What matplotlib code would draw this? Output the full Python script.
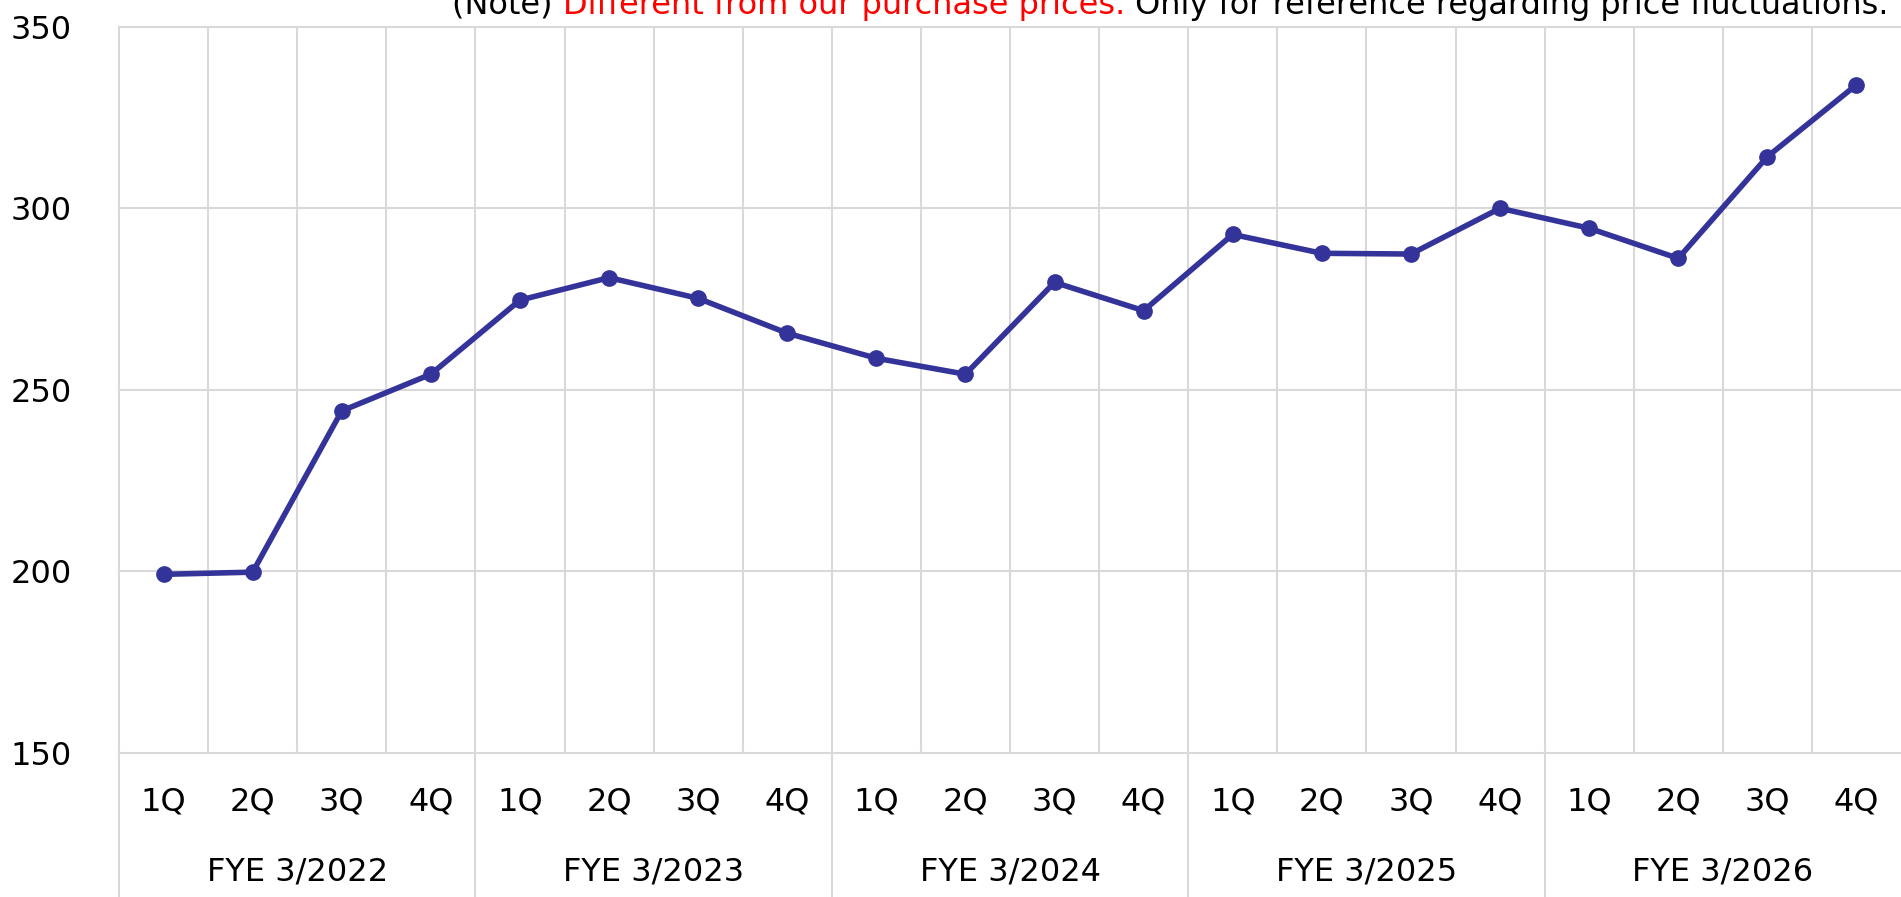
import numpy as np
import matplotlib
matplotlib.use("Agg")
import matplotlib.pyplot as plt
import matplotlib.transforms as mtransforms

# data
years = ["FYE 3/2022", "FYE 3/2023", "FYE 3/2024", "FYE 3/2025", "FYE 3/2026"]
quarters = ["1Q", "2Q", "3Q", "4Q"]
values = [199.2, 199.8, 244.2, 254.3,
          274.7, 280.9, 275.2, 265.6,
          258.7, 254.3, 279.6, 271.8,
          292.8, 287.6, 287.4, 300.0,
          294.5, 286.2, 314.2, 334.0]
y_ticks = [150, 200, 250, 300, 350]

note_parts = [("(Note) ", "black"),
              ("Different from our purchase prices.", "red"),
              (" Only for reference regarding price fluctuations.", "black")]

line_color = "#333399"
grid_color = "#d9d9d9"

plt.rcParams['font.family'] = ['DejaVu Sans']

W, H = 1901, 897
fig = plt.figure(figsize=(W / 100, H / 100), dpi=100)
left, top, bottom = 119, 26.7, 753
ax = fig.add_axes([left / W, 1 - bottom / H, 1 - left / W, (bottom - top) / H])

n = len(values)
x = np.arange(n)
ax.set_xlim(-0.5, n - 0.5)
ax.set_ylim(y_ticks[0], y_ticks[-1])

for s in ax.spines.values():
    s.set_visible(False)

# horizontal grid
for yv in y_ticks:
    ax.axhline(yv, color=grid_color, lw=1.5, zorder=1, clip_on=False)

# vertical grid, year separators run down below the plot
below = -(H - bottom) / (bottom - top)
trans = mtransforms.blended_transform_factory(ax.transData, ax.transAxes)
for k in range(n):
    xv = k - 0.5
    y0 = below if k % 4 == 0 else 0
    ax.plot([xv, xv], [y0, 1], color=grid_color, lw=1.5, transform=trans,
            clip_on=False, zorder=1)

ax.plot(x, values, color=line_color, lw=4, marker='o', markersize=11,
        zorder=3, clip_on=False)

# axis labels
ax.set_yticks(y_ticks)
ax.set_yticklabels([str(v) for v in y_ticks], fontsize=23)
ax.set_xticks(x)
ax.set_xticklabels(quarters * len(years), fontsize=23)
ax.tick_params(axis='y', length=0, pad=34)
ax.tick_params(axis='x', length=0, pad=24)

year_y = (bottom - 872) / (bottom - top)
for i, yr in enumerate(years):
    ax.text(i * 4 + 1.5, year_y, yr, transform=trans, ha='center',
            va='center', fontsize=23)

# note on top, in several colours
base = 1 - 14 / H
xpos = 452 / W
fig.canvas.draw()
renderer = fig.canvas.get_renderer()
for txt, col in note_parts:
    t = fig.text(xpos, base, txt, color=col, fontsize=23, ha='left', va='baseline')
    bb = t.get_window_extent(renderer)
    xpos = bb.x1 / W

fig.savefig("out.png", dpi=100)
